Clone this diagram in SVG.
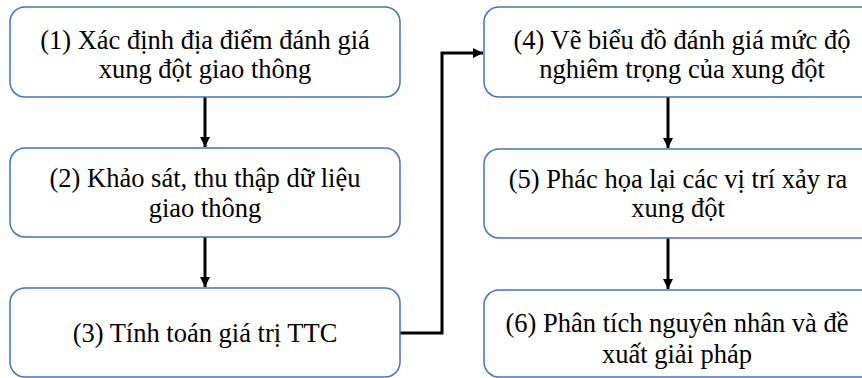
<svg xmlns="http://www.w3.org/2000/svg" width="862" height="378" viewBox="0 0 862 378">
<defs>
<style>
.box{fill:#ffffff;stroke:#4472C4;stroke-width:1.5}
.t{font-family:Liberation Serif,serif;font-size:26.5px;fill:#000;text-anchor:middle}
.c{fill:none;stroke:#000;stroke-width:3}
</style>
<marker id="ah" markerWidth="10" markerHeight="10" refX="10" refY="5" orient="auto" markerUnits="userSpaceOnUse">
<path d="M0,0 L10,5 L0,10 Z" fill="#000"/>
</marker>
</defs>
<rect width="862" height="378" fill="#ffffff"/>
<g id="connectors">
<path class="c" d="M205,97 V147" marker-end="url(#ah)"/>
<path class="c" d="M205,237 V287" marker-end="url(#ah)"/>
<path class="c" d="M400,333 H442 V53 H483" marker-end="url(#ah)"/>
<path class="c" d="M668,97 V148" marker-end="url(#ah)"/>
<path class="c" d="M668,238 V289" marker-end="url(#ah)"/>
</g>
<g id="node1">
<rect class="box" x="10" y="7" width="390" height="90" rx="15"/>
<text class="t" x="205" y="49">(1) Xác định địa điểm đánh giá</text>
<text class="t" x="205" y="78">xung đột giao thông</text>
</g>
<g id="node2">
<rect class="box" x="10" y="148" width="390" height="89" rx="15"/>
<text class="t" x="205" y="187">(2) Khảo sát, thu thập dữ liệu</text>
<text class="t" x="205" y="217">giao thông</text>
</g>
<g id="node3">
<rect class="box" x="10" y="288" width="390" height="89" rx="15"/>
<text class="t" x="205" y="342">(3) Tính toán giá trị TTC</text>
</g>
<g id="node4">
<rect class="box" x="484" y="7" width="396" height="90" rx="15"/>
<text class="t" x="682" y="49">(4) Vẽ biểu đồ đánh giá mức độ</text>
<text class="t" x="682" y="78">nghiêm trọng của xung đột</text>
</g>
<g id="node5">
<rect class="box" x="484" y="149" width="396" height="89" rx="15"/>
<text class="t" x="678" y="188">(5) Phác họa lại các vị trí xảy ra</text>
<text class="t" x="678" y="217">xung đột</text>
</g>
<g id="node6">
<rect class="box" x="484" y="290" width="396" height="87" rx="15"/>
<text class="t" x="677" y="332">(6) Phân tích nguyên nhân và đề</text>
<text class="t" x="677" y="363">xuất giải pháp</text>
</g>
</svg>
